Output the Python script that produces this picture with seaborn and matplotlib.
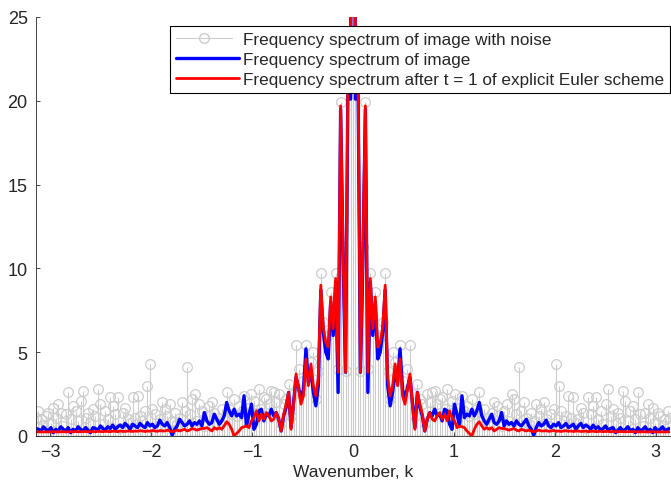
import numpy as np
import pandas as pd
import matplotlib
matplotlib.use("Agg")
import matplotlib.pyplot as plt
import seaborn as sns
from matplotlib.lines import Line2D
from matplotlib.legend_handler import HandlerLine2D

# magnitude spectra for k >= 0 (index 0 = DC); spectrum of a real signal is even,
# so the k < 0 half is the same values in reverse order
noise_half = [60, 20.6, 22.8, 3.9, 11.3, 19.9, 4.0, 9.7, 6.8, 8.6,
              6.0, 5.9, 6.8, 9.7, 3.9, 2.2, 5.0, 4.4, 3.6, 5.4,
              3.3, 2.6, 4.0, 5.4, 2.5, 1.2, 3.1, 2.2, 1.9, 0.8,
              2.5, 2.0, 2.6, 2.7, 1.9, 2.2, 2.3, 1.6, 2.8, 1.4,
              2.1, 2.5, 1.0, 1.7, 2.4, 1.5, 1.8, 1.2, 2.2, 1.3,
              1.6, 2.6, 1.0, 1.6, 1.1, 0.8, 1.4, 2.0, 1.8, 1.2,
              0.6, 1.5, 1.9, 0.9, 2.5, 2.2, 1.3, 4.1, 1.5, 2.0,
              1.1, 0.7, 1.4, 0.9, 1.9, 1.2, 1.6, 2.0, 1.0, 0.6,
              1.3, 1.6, 4.3, 3.0, 1.5, 0.9, 1.2, 2.4, 1.1, 2.3,
              0.8, 1.0, 1.7, 1.4, 0.5, 2.3, 1.3, 1.8, 2.3, 1.0,
              1.5, 0.7, 1.9, 2.8, 1.2, 1.6, 0.8, 1.4, 1.1, 2.7,
              2.1, 0.9, 1.5, 1.8, 1.0, 2.6, 1.3, 0.6, 1.4, 1.9,
              1.1, 1.7, 0.8, 1.4, 1.2, 0.6, 1.0, 1.5, 1.1]

image_half = [60, 20.1, 22.0, 3.8, 10.5, 19.5, 2.6, 9.2, 6.0, 8.0,
              4.6, 5.0, 6.2, 8.7, 3.0, 1.8, 2.6, 3.9, 3.2, 5.2,
              2.8, 2.2, 2.9, 3.5, 2.0, 0.5, 2.6, 1.7, 1.2, 0.3,
              1.0, 1.4, 1.2, 1.6, 1.2, 1.3, 0.9, 1.6, 1.5, 0.7,
              0.4, 1.9, 1.3, 0.6, 2.4, 1.1, 1.3, 1.2, 1.6, 1.2,
              1.5, 2.0, 1.2, 0.9, 0.7, 1.0, 1.3, 0.8, 0.7, 0.9,
              1.4, 0.6, 0.9, 0.7, 0.8, 0.6, 0.9, 0.7, 0.6, 0.8,
              1.0, 0.6, 0.4, 0.05, 0.5, 0.8, 0.6, 0.7, 0.95, 0.6,
              0.5, 0.7, 0.6, 0.8, 0.5, 0.6, 0.75, 0.5, 0.6, 0.7,
              0.4, 0.6, 0.75, 0.5, 0.65, 0.55, 0.4, 0.65, 0.45, 0.55,
              0.35, 0.45, 0.6, 0.35, 0.45, 0.5, 0.2, 0.35, 0.5, 0.3,
              0.4, 0.55, 0.3, 0.4, 0.2, 0.5, 0.3, 0.4, 0.55, 0.3,
              0.4, 0.2, 0.5, 0.3, 0.4, 0.55, 0.3, 0.4, 0.45]

euler_half = [60, 21.5, 22.5, 3.8, 11.0, 19.7, 3.8, 9.4, 6.4, 8.3,
              5.3, 5.6, 6.5, 9.0, 3.5, 2.4, 3.0, 4.3, 3.0, 4.6,
              2.4, 1.9, 2.8, 3.7, 1.8, 0.4, 2.6, 1.9, 1.3, 0.3,
              1.0, 1.4, 1.0, 0.9, 1.2, 1.4, 1.0, 1.3, 0.9, 1.5,
              1.1, 0.9, 0.5, 0.6, 0.55, 0.5, 0.3, 0.15, 0.0, 0.4,
              0.7, 0.85, 0.6, 0.4, 0.5, 0.4, 0.5, 0.3, 0.4, 0.5,
              0.45, 0.45, 0.4, 0.35, 0.4, 0.45, 0.35, 0.3, 0.4, 0.35,
              0.3, 0.35, 0.3, 0.25, 0.3, 0.35, 0.3, 0.3, 0.32, 0.28,
              0.3, 0.33, 0.28, 0.3, 0.27, 0.3, 0.32, 0.28, 0.3, 0.27,
              0.29, 0.3, 0.27, 0.28, 0.3, 0.26, 0.28, 0.29, 0.26, 0.27,
              0.28, 0.26, 0.27, 0.28, 0.25, 0.27, 0.26, 0.25, 0.27, 0.26,
              0.25, 0.26, 0.27, 0.25, 0.26, 0.25, 0.24, 0.26, 0.25, 0.24,
              0.25, 0.26, 0.24, 0.25, 0.24, 0.25, 0.24, 0.25, 0.25]


def full(half):
    half = np.asarray(half, dtype=float)
    return np.concatenate([half[:0:-1], half])


k = np.linspace(-np.pi, np.pi, 2 * len(noise_half) - 1)
df = pd.DataFrame({"k": k,
                   "noise": full(noise_half),
                   "image": full(image_half),
                   "euler": full(euler_half)})

sns.set_style("ticks")
plt.rcParams["font.family"] = ["Liberation Sans", "DejaVu Sans"]
plt.rcParams["xtick.direction"] = "in"
plt.rcParams["ytick.direction"] = "in"

fig = plt.figure(figsize=(6.71, 4.81), dpi=100)
ax = fig.add_axes([36 / 671, 1 - 437 / 481, 634 / 671, 419 / 481])

gray = "#cccccc"
ml, sl, bl = ax.stem(df["k"], df["noise"], basefmt="k-")
plt.setp(sl, color=gray, linewidth=0.8)
plt.setp(ml, markerfacecolor="none", markeredgecolor=gray, markersize=7,
         markeredgewidth=0.9)
plt.setp(bl, linewidth=0.8)

sns.lineplot(data=df, x="k", y="image", ax=ax, color="#0000ff", linewidth=2.4,
             estimator=None, sort=False)
sns.lineplot(data=df, x="k", y="euler", ax=ax, color="#ff0000", linewidth=2.0,
             estimator=None, sort=False)

ax.set_xlim(-np.pi, np.pi)
ax.set_ylim(0, 25)
ax.set_xticks([-3, -2, -1, 0, 1, 2, 3])
ax.set_yticks([0, 5, 10, 15, 20, 25])
ax.tick_params(labelsize=13, length=3, width=0.6)
ax.tick_params(axis="y", pad=6)
ax.tick_params(axis="x", pad=5)
ax.set_xlabel("Wavenumber, k", fontsize=12.5, labelpad=3)
ax.set_ylabel("")
sns.despine(ax=ax)
ax.spines["left"].set_linewidth(0.6)
ax.spines["bottom"].set_linewidth(0.6)


class RightMarker(HandlerLine2D):
    def get_xdata(self, legend, xdescent, ydescent, width, height, fontsize):
        return [-xdescent, -xdescent + width * 0.88], [-xdescent + width * 0.76]


h_noise = Line2D([], [], color=gray, linewidth=0.8, marker="o", markersize=7,
                 markerfacecolor="none", markeredgecolor=gray)
h_image = Line2D([], [], color="#0000ff", linewidth=2.4)
h_euler = Line2D([], [], color="#ff0000", linewidth=2.0)
leg = ax.legend([h_noise, h_image, h_euler],
                ["Frequency spectrum of image with noise",
                 "Frequency spectrum of image",
                 "Frequency spectrum after t = 1 of explicit Euler scheme"],
                loc="upper right", bbox_to_anchor=(1.0, 0.978), borderaxespad=0,
                fontsize=12.3, frameon=True, fancybox=False, framealpha=1,
                edgecolor="black", handlelength=3.7, handletextpad=0.2,
                labelspacing=0.3, borderpad=0.35,
                handler_map={h_noise: RightMarker(numpoints=1)})
leg.get_frame().set_linewidth(0.8)

fig.savefig("out.png", dpi=100)
